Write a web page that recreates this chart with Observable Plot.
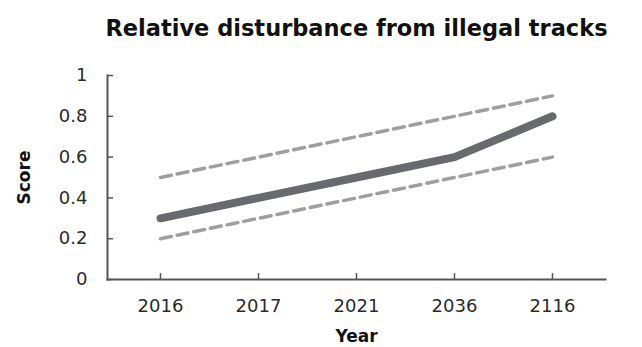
<!DOCTYPE html>
<html><head><meta charset="utf-8">
<script src="https://cdn.jsdelivr.net/npm/d3@7"></script>
<script src="https://cdn.jsdelivr.net/npm/@observablehq/plot@0.6"></script>
<style>body{margin:0;background:#fff;} #chart{width:642px;height:347px;}</style>
</head><body><div id="chart"></div>
<script>
const title = "Relative disturbance from illegal tracks";
const years = ["2016", "2017", "2021", "2036", "2116"];
const score = [0.3, 0.4, 0.5, 0.6, 0.8];
const upper = [0.5, 0.6, 0.7, 0.8, 0.9];
const lower = [0.2, 0.3, 0.4, 0.5, 0.6];
const yTicks = [0, 0.2, 0.4, 0.6, 0.8, 1];

const rows = (vals) => years.map((y, i) => ({year: y, value: vals[i]}));
const font = "'DejaVu Sans', sans-serif";

const chart = Plot.plot({
  width: 642, height: 347,
  marginLeft: 107, marginRight: 37, marginTop: 75, marginBottom: 68,
  style: {fontFamily: font, fontSize: "18px", color: "#222", background: "#fff"},
  x: {type: "point", domain: years, padding: 0.53},
  y: {domain: [0, 1]},
  marks: [
    Plot.axisY(yTicks, {tickSize: 6, dx: 6, text: null, stroke: "#555", strokeWidth: 1.5, label: null}),
    Plot.axisY(yTicks, {tickSize: 0, tickPadding: 20, fontSize: 18, fill: "#2a2a2a", label: null, tickFormat: d3.format("~g")}),
    Plot.axisX({tickSize: 6, dy: -6, text: null, stroke: "#555", strokeWidth: 1.5, label: null}),
    Plot.axisX({tickSize: 0, tickPadding: 20, fontSize: 18, fill: "#2a2a2a", label: null}),
    Plot.frame({anchor: "left", stroke: "#555", strokeWidth: 2}),
    Plot.frame({anchor: "bottom", stroke: "#555", strokeWidth: 2}),
    Plot.line(rows(upper), {x: "year", y: "value", stroke: "#9e9e9e", strokeWidth: 3.5, strokeDasharray: "11,6"}),
    Plot.line(rows(lower), {x: "year", y: "value", stroke: "#9e9e9e", strokeWidth: 3.5, strokeDasharray: "11,6"}),
    Plot.line(rows(score), {x: "year", y: "value", stroke: "#696a6d", strokeWidth: 8, strokeLinecap: "round", strokeLinejoin: "round"}),
    Plot.text([title], {frameAnchor: "top", dy: -55, fontSize: 22.5, fontWeight: "bold", fill: "#111"}),
    Plot.text(["Year"], {frameAnchor: "bottom", dy: 62, fontSize: 17, fontWeight: "bold", fill: "#111"}),
    Plot.text(["Score"], {frameAnchor: "left", textAnchor: "middle", dx: -83, rotate: -90, fontSize: 17, fontWeight: "bold", fill: "#111"})
  ]
});
document.getElementById("chart").appendChild(chart);
</script>
</body></html>
